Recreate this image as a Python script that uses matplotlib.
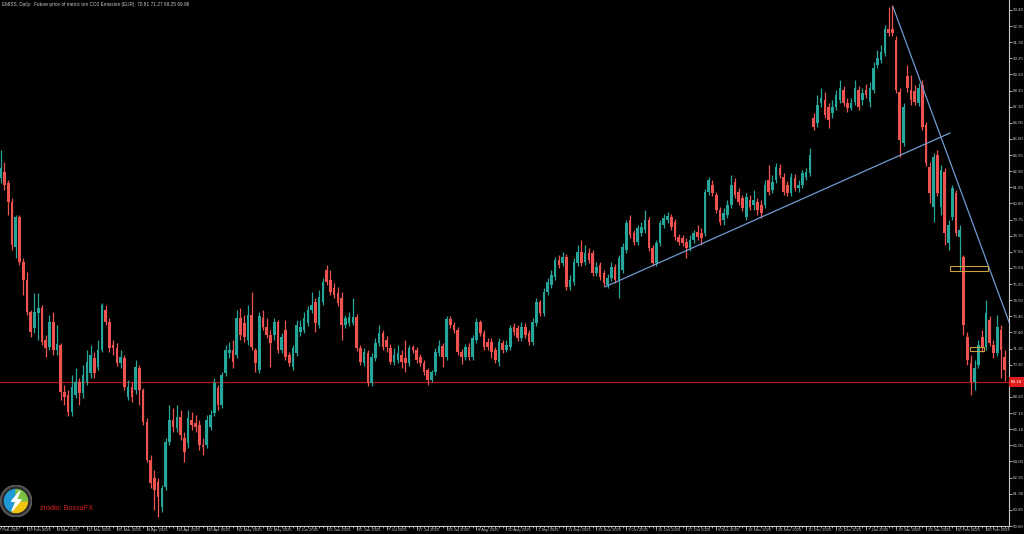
import matplotlib
matplotlib.use("Agg")
import matplotlib.pyplot as plt
import matplotlib.transforms as mtrans
from matplotlib.patches import Rectangle, Circle, Wedge, Polygon

# ---------------- data (daily OHLC, EUR per ton CO2) ----------------
opens = [
    82.46, 82.85, 82.14, 80.90, 77.97, 79.92, 76.99, 75.82, 73.74, 72.70,
    73.67, 74.00, 71.92, 71.46, 73.09, 71.27, 71.59, 68.53, 68.34, 67.23,
    68.34, 69.18, 68.47, 69.18, 69.77, 70.74, 70.16, 71.27, 73.87, 73.09,
    71.59, 71.40, 70.42, 70.74, 68.21, 68.86, 68.66, 70.09, 68.66, 66.58,
    64.10, 62.93, 62.67, 61.04, 62.35, 65.28, 66.71, 66.19, 66.90, 65.54,
    65.21, 66.71, 66.51, 66.38, 65.08, 65.08, 66.25, 67.16, 68.79, 67.68,
    69.77, 71.07, 71.27, 70.94, 73.35, 73.02, 71.92, 73.54, 71.27, 69.96,
    73.35, 72.76, 72.24, 72.24, 73.09, 71.27, 72.57, 70.94, 70.16, 71.07,
    72.44, 72.57, 73.02, 73.87, 74.39, 72.89, 74.39, 76.47, 75.82, 75.30,
    74.97, 74.65, 72.89, 73.02, 73.02, 73.41, 71.40, 70.42, 71.07, 69.12,
    70.74, 71.72, 72.37, 71.92, 71.40, 70.48, 70.61, 70.94, 70.74, 70.42,
    71.46, 71.27, 70.81, 70.42, 69.96, 69.31, 69.83, 71.07, 71.53, 70.81,
    73.28, 72.89, 72.57, 71.14, 70.81, 71.46, 70.81, 71.92, 73.09, 72.37,
    71.79, 71.79, 71.27, 70.48, 71.72, 71.27, 71.46, 72.76, 72.70, 72.05,
    72.76, 72.37, 71.79, 73.02, 74.39, 73.67, 75.04, 75.50, 76.02, 77.12,
    76.93, 77.32, 75.37, 75.69, 76.93, 77.65, 76.99, 77.58, 77.58, 76.28,
    76.80, 76.28, 75.50, 75.95, 76.67, 75.82, 76.47, 77.78, 79.73, 78.88,
    78.30, 78.88, 79.08, 79.73, 77.91, 76.93, 78.23, 79.40, 79.73, 79.92,
    79.60, 78.62, 78.56, 78.30, 77.91, 78.43, 78.95, 78.88, 78.88, 81.55,
    82.01, 81.36, 80.38, 79.73, 80.05, 80.70, 82.20, 81.55, 81.16, 79.92,
    81.03, 80.70, 80.90, 80.70, 80.70, 82.33, 81.68, 82.33, 83.11, 82.53,
    82.01, 81.49, 82.46, 81.81, 82.01, 82.53, 82.79, 86.37, 86.04, 87.34,
    87.54, 87.08, 86.69, 87.08, 87.54, 88.19, 87.34, 87.02, 87.41, 88.19,
    87.54, 88.19, 87.41, 88.19, 89.82, 90.14, 90.60, 92.16, 92.16, 91.45,
    88.06, 84.74, 89.10, 88.19, 88.13, 87.34, 88.52, 85.91, 83.18, 80.57,
    83.96, 80.57, 82.85, 78.23, 79.92, 81.49, 78.62, 77.32, 72.11, 70.42,
    69.18, 70.29, 72.11, 71.46, 73.22, 71.59, 71.07, 72.57, 70.81,
]
highs = [
    84.28, 83.50, 82.33, 81.16, 80.05, 80.05, 77.25, 76.34, 73.87, 74.97,
    74.97, 74.19, 72.24, 73.54, 73.74, 72.89, 71.72, 68.99, 68.66, 69.64,
    70.09, 69.44, 70.29, 71.27, 71.59, 71.14, 71.92, 74.33, 74.19, 73.35,
    71.92, 71.72, 71.27, 70.94, 69.31, 69.18, 70.61, 70.29, 68.79, 66.84,
    64.43, 63.45, 62.93, 62.48, 65.54, 67.68, 67.49, 67.68, 67.36, 65.93,
    67.36, 67.23, 67.03, 66.71, 65.54, 67.03, 67.36, 69.44, 68.99, 69.83,
    71.59, 71.79, 71.92, 73.87, 74.00, 73.54, 74.19, 75.04, 71.40, 73.74,
    73.87, 73.35, 72.57, 73.35, 73.22, 72.37, 73.22, 71.14, 71.59, 73.22,
    73.22, 73.74, 74.13, 75.04, 74.65, 75.17, 75.95, 76.80, 76.47, 75.63,
    75.37, 75.04, 73.54, 73.74, 74.65, 73.61, 71.59, 71.40, 71.27, 71.07,
    72.05, 72.89, 72.57, 72.18, 71.66, 71.40, 71.59, 71.27, 71.92, 71.59,
    71.59, 71.46, 71.01, 70.61, 70.09, 69.96, 71.40, 71.92, 71.72, 73.48,
    73.48, 73.09, 72.76, 71.33, 71.66, 71.72, 72.24, 73.35, 73.22, 72.57,
    72.05, 72.05, 71.46, 72.05, 71.92, 71.92, 72.89, 73.02, 72.89, 73.09,
    73.02, 72.57, 73.35, 74.65, 74.52, 75.30, 75.95, 76.47, 77.32, 77.45,
    77.65, 77.52, 76.15, 77.25, 78.10, 78.43, 78.10, 77.91, 77.78, 76.99,
    76.99, 76.47, 76.21, 76.99, 76.86, 77.45, 78.23, 79.73, 80.05, 79.08,
    79.40, 79.60, 80.38, 79.92, 78.10, 78.43, 79.73, 80.12, 80.25, 80.12,
    79.79, 78.82, 78.75, 78.56, 78.75, 79.08, 79.40, 79.21, 81.75, 82.53,
    82.33, 81.55, 80.57, 80.51, 81.03, 82.66, 82.46, 81.81, 81.36, 81.49,
    81.36, 81.68, 81.16, 81.03, 82.33, 83.31, 82.66, 83.44, 83.37, 82.79,
    82.27, 82.79, 82.72, 82.33, 82.98, 83.11, 84.42, 86.69, 87.87, 88.32,
    88.06, 87.34, 87.54, 88.19, 88.84, 88.45, 87.67, 87.67, 88.84, 88.45,
    88.32, 88.58, 88.71, 90.01, 90.80, 91.12, 92.42, 93.59, 93.72, 91.71,
    88.32, 87.34, 89.82, 89.17, 88.52, 88.65, 88.84, 86.11, 83.50, 84.09,
    84.28, 83.31, 83.11, 79.73, 82.01, 81.68, 79.40, 77.45, 72.44, 70.94,
    70.61, 71.92, 72.57, 74.52, 73.48, 71.92, 73.54, 72.89, 71.27,
]
lows = [
    82.14, 81.68, 80.05, 77.78, 77.25, 76.80, 74.85, 73.54, 72.11, 72.37,
    71.92, 71.59, 70.81, 71.27, 70.94, 70.94, 68.01, 67.68, 66.97, 66.97,
    68.14, 67.68, 68.14, 68.99, 69.44, 69.44, 69.96, 71.14, 72.89, 71.14,
    70.94, 70.22, 70.09, 68.66, 68.01, 67.88, 68.40, 67.68, 66.38, 63.97,
    62.28, 60.85, 60.39, 60.72, 62.15, 65.08, 65.93, 65.93, 65.41, 63.97,
    64.89, 66.06, 65.93, 64.76, 64.43, 64.89, 66.06, 66.97, 67.36, 67.49,
    69.57, 70.74, 70.09, 70.74, 71.92, 71.79, 71.59, 71.27, 69.83, 69.77,
    72.57, 72.05, 70.16, 71.92, 71.07, 71.07, 70.61, 70.22, 69.96, 70.88,
    72.18, 72.37, 72.83, 73.67, 72.44, 72.70, 74.19, 75.50, 74.85, 74.65,
    74.13, 71.92, 72.70, 72.83, 72.89, 71.20, 70.29, 70.22, 68.92, 68.92,
    70.55, 71.53, 71.27, 71.14, 70.35, 70.29, 70.42, 70.09, 69.83, 70.22,
    71.07, 70.42, 70.22, 69.64, 68.99, 69.18, 69.64, 70.88, 70.16, 70.61,
    72.70, 72.37, 70.94, 70.35, 70.61, 70.61, 70.61, 71.72, 72.18, 71.27,
    71.27, 70.74, 70.42, 70.22, 71.07, 71.14, 71.27, 72.24, 71.85, 71.85,
    72.05, 71.59, 71.59, 72.83, 73.48, 73.48, 74.85, 75.30, 75.82, 76.60,
    76.73, 75.17, 75.17, 75.50, 76.73, 76.73, 76.80, 76.93, 76.08, 76.08,
    75.82, 75.43, 75.30, 75.76, 75.63, 74.65, 76.28, 77.58, 78.56, 78.10,
    78.10, 78.69, 78.88, 77.71, 76.73, 76.73, 78.04, 79.21, 79.53, 79.08,
    78.43, 78.10, 78.04, 77.25, 77.71, 78.23, 78.43, 78.10, 78.69, 81.36,
    81.29, 80.18, 79.40, 79.40, 79.86, 80.51, 81.16, 80.70, 80.31, 79.73,
    80.38, 80.38, 80.05, 79.86, 80.51, 81.36, 81.49, 82.14, 82.46, 81.36,
    81.29, 81.29, 81.62, 81.55, 81.81, 82.33, 82.59, 85.59, 85.78, 87.08,
    86.37, 85.72, 86.37, 86.89, 87.34, 87.15, 86.76, 86.89, 87.21, 86.89,
    87.21, 87.67, 87.08, 88.00, 89.62, 89.95, 90.40, 91.71, 91.71, 88.00,
    83.83, 84.55, 88.06, 87.21, 87.21, 87.15, 85.59, 83.24, 80.83, 79.60,
    81.29, 80.05, 78.10, 77.78, 79.73, 78.69, 76.47, 72.24, 70.29, 68.34,
    68.66, 70.09, 71.14, 71.27, 71.53, 70.74, 70.88, 69.44, 69.25,
]
closes = [
    83.11, 82.01, 80.90, 78.10, 79.92, 76.99, 75.82, 73.74, 72.44, 73.74,
    74.00, 71.79, 71.40, 73.09, 71.27, 71.66, 68.53, 68.21, 67.23, 68.86,
    69.18, 68.47, 69.64, 70.48, 70.94, 69.77, 71.27, 74.19, 73.09, 71.40,
    71.40, 70.42, 70.81, 68.86, 68.86, 68.21, 70.16, 68.66, 66.58, 64.10,
    62.61, 62.15, 61.70, 62.28, 65.28, 66.71, 66.25, 66.90, 65.73, 64.63,
    66.84, 66.38, 66.25, 65.08, 64.95, 66.71, 67.03, 69.12, 67.68, 69.64,
    71.27, 71.27, 70.48, 73.35, 72.24, 72.11, 73.54, 71.46, 70.42, 73.48,
    72.76, 72.24, 71.72, 73.09, 71.27, 72.11, 70.81, 70.42, 71.40, 72.89,
    72.76, 73.35, 73.87, 74.19, 73.02, 74.72, 75.69, 75.69, 75.04, 74.85,
    74.33, 72.89, 73.35, 73.41, 73.41, 71.40, 70.48, 71.14, 69.12, 70.81,
    71.72, 72.37, 71.46, 71.46, 70.48, 70.94, 71.07, 70.48, 70.42, 71.40,
    71.27, 70.61, 70.42, 69.83, 69.31, 69.83, 71.14, 71.53, 70.81, 73.28,
    72.89, 72.57, 71.14, 70.81, 71.46, 70.81, 72.05, 73.09, 72.37, 71.46,
    71.46, 71.14, 70.61, 71.79, 71.27, 71.59, 72.70, 72.44, 72.05, 72.76,
    72.24, 71.79, 73.09, 74.39, 73.67, 75.04, 75.69, 76.15, 77.12, 76.80,
    77.32, 75.37, 75.82, 76.99, 77.65, 76.93, 77.58, 77.12, 76.28, 76.67,
    76.02, 75.63, 75.95, 76.67, 75.82, 77.25, 77.97, 79.53, 78.75, 78.30,
    79.21, 79.27, 79.73, 77.91, 76.93, 78.23, 79.53, 79.86, 79.99, 79.27,
    78.62, 78.30, 78.23, 77.91, 78.43, 78.88, 78.62, 78.56, 81.55, 82.33,
    81.49, 80.38, 79.60, 80.18, 80.70, 82.01, 81.36, 80.90, 80.51, 81.23,
    80.57, 81.03, 80.38, 80.18, 82.01, 81.55, 82.20, 83.18, 82.66, 81.55,
    81.49, 82.53, 81.81, 82.01, 82.79, 82.85, 83.96, 85.78, 87.21, 87.67,
    86.56, 86.24, 87.08, 87.87, 88.32, 87.34, 87.02, 87.34, 88.32, 87.08,
    88.00, 87.87, 88.32, 89.62, 90.27, 90.66, 92.16, 91.90, 91.90, 88.19,
    84.94, 87.08, 88.32, 87.54, 87.41, 88.32, 85.78, 83.44, 81.49, 83.83,
    81.49, 82.98, 78.88, 79.40, 81.81, 78.88, 79.08, 72.89, 70.61, 69.18,
    70.09, 71.59, 71.40, 73.67, 71.72, 71.07, 72.76, 71.27, 69.96,
]

# time axis labels: one every 8 bars, first one one bar before bar 0
time_labels = [
    "7 Feb 2025", "19 Feb 2025", "3 Mar 2025", "13 Mar 2025", "25 Mar 2025",
    "4 Apr 2025", "16 Apr 2025", "30 Apr 2025", "12 May 2025", "22 May 2025",
    "3 Jun 2025", "13 Jun 2025", "25 Jun 2025", "7 Jul 2025", "17 Jul 2025",
    "29 Jul 2025", "8 Aug 2025", "20 Aug 2025", "1 Sep 2025", "11 Sep 2025",
    "23 Sep 2025", "3 Oct 2025", "15 Oct 2025", "27 Oct 2025", "6 Nov 2025",
    "18 Nov 2025", "28 Nov 2025", "10 Dec 2025", "22 Dec 2025", "7 Jan 2026",
    "19 Jan 2026", "29 Jan 2026", "10 Feb 2026", "20 Feb 2026",
]
price_ticks = [
    93.40, 92.35, 91.30, 90.25, 89.20, 88.15, 87.10, 86.05, 85.00, 83.95,
    82.90, 81.85, 80.80, 79.75, 78.70, 77.65, 76.60, 75.55, 74.50, 73.45,
    72.40, 71.35, 70.30, 69.25, 68.20, 67.15, 66.10, 65.05, 64.00, 62.95,
    61.90, 60.85, 59.80,
]

support_level = 69.18
rising_line = [(161.3, 75.37), (253.4, 85.39)]      # (bar, price)
falling_line = [(238.2, 93.59), (269.2, 73.06)]
zone_boxes = [((253.4, 76.40), (263.5, 76.73)), ((258.7, 71.20), (262.5, 71.46))]

title_text = "EMISS, Daily:  Future price of metric ton CO2 Emission (EUR)  70.81 71.27 69.25 69.96"
source_text = "źródło: BossaFX"

# ---------------- styling ----------------
BG = "#000000"
UP = "#26a69a"
DOWN = "#ef5350"
AXC = "#c8c8c8"
FONT = ["Liberation Sans", "DejaVu Sans"]
plt.rcParams["font.family"] = FONT

W, H = 1024, 534
fig = plt.figure(figsize=(W / 100, H / 100), dpi=100, facecolor=BG)
ax = fig.add_axes([0, 8 / H, 1009 / W, 526 / H], facecolor=BG)

n = len(closes)
xs = list(range(n))
cols = [UP if c >= o else DOWN for o, c in zip(opens, closes)]
ax.vlines(xs, lows, highs, colors=cols, linewidth=0.9, zorder=2)
bottoms = [min(o, c) for o, c in zip(opens, closes)]
heights = [max(abs(c - o), 0.04) for o, c in zip(opens, closes)]
ax.bar(xs, heights, bottom=bottoms, width=0.7, color=cols, linewidth=0, zorder=3)

ax.set_xlim(-0.2, 269.15)
ax.set_ylim(59.80, 94.05)

# annotations
ax.axhline(support_level, color="#b01818", linewidth=0.9, zorder=1)
ax.plot(*zip(*rising_line), color="#6f9bd1", linewidth=0.9, zorder=4)
ax.plot(*zip(*falling_line), color="#6f9bd1", linewidth=0.9, zorder=4)
for (x0, y0), (x1, y1) in zone_boxes:
    ax.add_patch(Rectangle((x0, y0), x1 - x0, y1 - y0, fill=False,
                           edgecolor="#c9a13b", linewidth=0.8, zorder=5))

# axes styling
for s in ("top", "left"):
    ax.spines[s].set_visible(False)
for s in ("right", "bottom"):
    ax.spines[s].set_color(AXC)
    ax.spines[s].set_linewidth(0.8)

ax.yaxis.tick_right()
ax.set_yticks(price_ticks)
ax.set_yticklabels([f"{p:.2f}" for p in price_ticks])
ax.tick_params(axis="y", colors=AXC, labelsize=3.2, length=2, width=0.6, pad=0.8)

label_pos = [-1 + 8 * k for k in range(len(time_labels))]
ax.set_xticks([p for p in label_pos if p >= 0])
ax.set_xticklabels([])
ax.set_xticks(range(0, n + 1), minor=True)
ax.tick_params(axis="x", which="major", colors=AXC, length=3, width=0.6)
ax.tick_params(axis="x", which="minor", colors=AXC, length=1.5, width=0.5)
trans = mtrans.blended_transform_factory(ax.transData, ax.transAxes)
for p, lab in zip(label_pos, time_labels):
    ax.text(p + 0.4, -0.003, lab, transform=trans, ha="left", va="top",
            fontsize=3.0, color=AXC, clip_on=False)

# current level price tag on the axis
tag_y = 1 - 382 / H
fig.patches.append(Rectangle((1009 / W, tag_y - 5 / H), 15 / W, 10 / H,
                             transform=fig.transFigure, facecolor="#e01c1c",
                             edgecolor="none", zorder=10))
fig.text(1016.5 / W, tag_y, f"{support_level:.2f}", ha="center", va="center",
         fontsize=3.2, color="white", zorder=11)

# title
fig.text(2 / W, 1 - 2 / H, title_text, ha="left", va="top", fontsize=3.4, color=AXC)

# logo + source
lax = fig.add_axes([0, 1 - 517 / H, 32 / W, 32 / H])
lax.set_xlim(-1, 1)
lax.set_ylim(-1, 1)
lax.set_aspect("equal")
lax.axis("off")
lax.add_patch(Circle((0, 0), 0.98, color="#5a5a5a"))
lax.add_patch(Circle((0, 0), 0.86, color="#2b2b2b"))
lax.add_patch(Wedge((0, 0), 0.72, 90, 250, color="#1e9ad6"))
lax.add_patch(Wedge((0, 0), 0.72, 250, 360, color="#f2c40f"))
lax.add_patch(Wedge((0, 0), 0.72, 0, 90, color="#7cc242"))
lax.add_patch(Polygon([(0.25, 0.62), (-0.28, -0.02), (0.02, -0.02), (-0.25, -0.62),
                       (0.32, 0.08), (0.02, 0.08)], closed=True, color="white"))
fig.text(40 / W, 1 - 508 / H, source_text, ha="left", va="center",
         fontsize=5.2, color="#d42020")

fig.savefig("out.png", dpi=100, facecolor=BG)
